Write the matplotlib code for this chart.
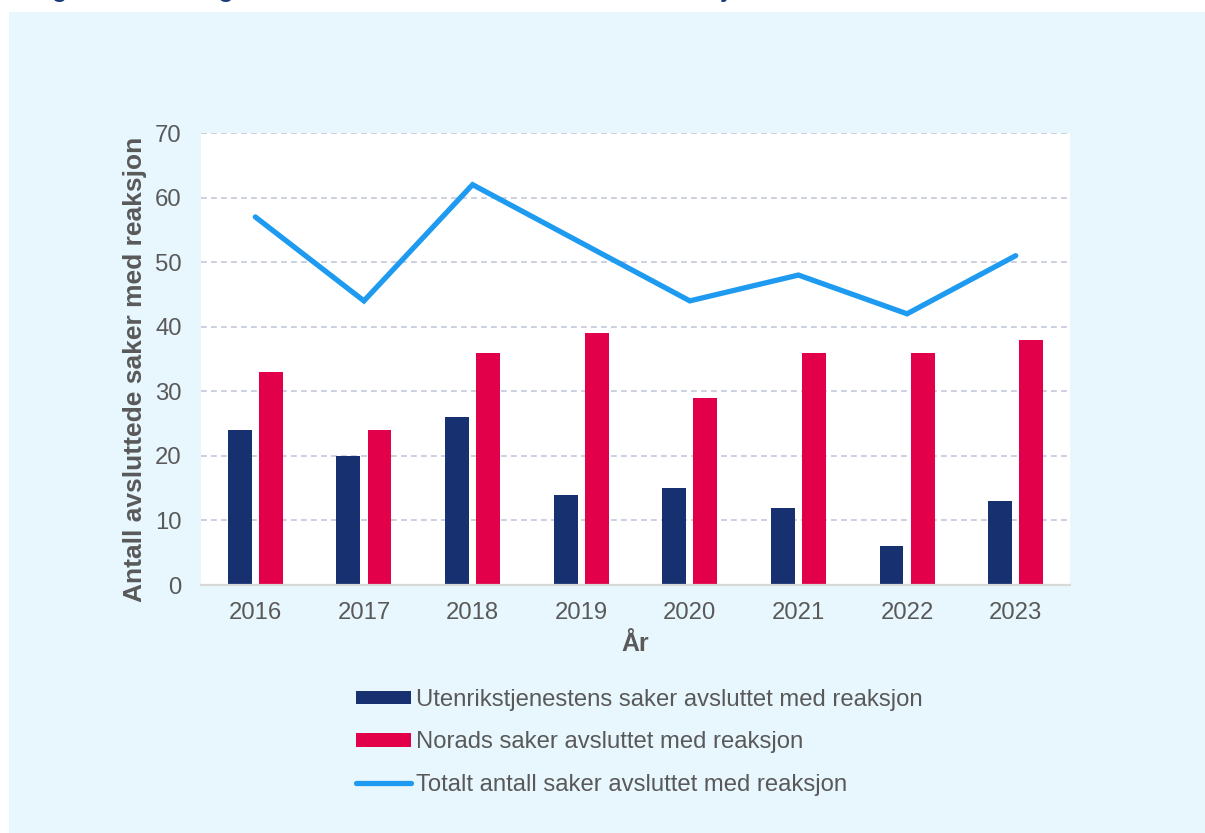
import numpy as np
import matplotlib.pyplot as plt
from matplotlib.patches import Rectangle

plt.rcParams["font.family"] = ["Liberation Sans", "DejaVu Sans"]

years = ["2016", "2017", "2018", "2019", "2020", "2021", "2022", "2023"]
ud_saker = [24, 20, 26, 14, 15, 12, 6, 13]
norad_saker = [33, 24, 36, 39, 29, 36, 36, 38]
totalt = [57, 44, 62, 53, 44, 48, 42, 51]

navy = "#17306F"
red = "#E2004A"
lightblue = "#1E9BF0"
grey = "#595959"
bg = "#E8F7FE"

fig = plt.figure(figsize=(12.05, 8.33), dpi=100)
fig.patches.append(Rectangle((9 / 1205, 0), 1, (833 - 12) / 833, transform=fig.transFigure,
                             facecolor=bg, edgecolor="none", zorder=-10))
# title sits mostly above the visible area, only descenders show
fig.text(30 / 1205, (833 + 3) / 833, "Figur 3: Utvikling i antall saker som er avsluttet med reaksjon",
         fontsize=18, fontweight="bold", color="#1B3A7A", va="baseline", ha="left")

ax = fig.add_axes([201 / 1205, (833 - 585) / 833, (1070 - 201) / 1205, (585 - 133) / 833])
ax.set_facecolor("white")

x = np.arange(len(years))
w = 0.22
b1 = ax.bar(x - 0.143, ud_saker, w, color=navy, label="Utenrikstjenestens saker avsluttet med reaksjon", zorder=3)
b2 = ax.bar(x + 0.143, norad_saker, w, color=red, label="Norads saker avsluttet med reaksjon", zorder=3)
l1, = ax.plot(x, totalt, color=lightblue, lw=3.8, solid_capstyle="round", solid_joinstyle="miter",
              label="Totalt antall saker avsluttet med reaksjon", zorder=4)

ax.set_xlim(-0.5, len(years) - 0.5)
ax.set_ylim(0, 70)
ax.set_yticks(range(0, 71, 10))
ax.set_xticks(x)
ax.set_xticklabels(years)
ax.yaxis.grid(True, ls=(0, (3.5, 2.5)), color="#C3C7DA", lw=1.2, zorder=0)
ax.tick_params(axis="both", length=0, labelsize=17.2, labelcolor=grey)
ax.tick_params(axis="x", pad=12)
ax.tick_params(axis="y", pad=14)
for s in ["top", "right", "left"]:
    ax.spines[s].set_visible(False)
ax.spines["bottom"].set_color("#D9D9D9")
ax.spines["bottom"].set_linewidth(1.6)
ax.spines["bottom"].set_zorder(5)

ax.set_xlabel("År", fontsize=18, fontweight="bold", color=grey, labelpad=6)
ax.set_ylabel("Antall avsluttede saker med reaksjon", fontsize=19, fontweight="bold", color=grey, labelpad=6)
ax.yaxis.label.set_y(0.478)

fig.legend([b1, b2, l1], [b1.get_label(), b2.get_label(), l1.get_label()],
           loc="upper left", bbox_to_anchor=(356 / 1205, (833 - 689) / 833), frameon=False,
           fontsize=17.2, labelcolor=grey, handlelength=2.3, handleheight=0.5,
           handletextpad=0.2, labelspacing=0.85, borderpad=0, borderaxespad=0)

fig.savefig("out.png", dpi=100)
